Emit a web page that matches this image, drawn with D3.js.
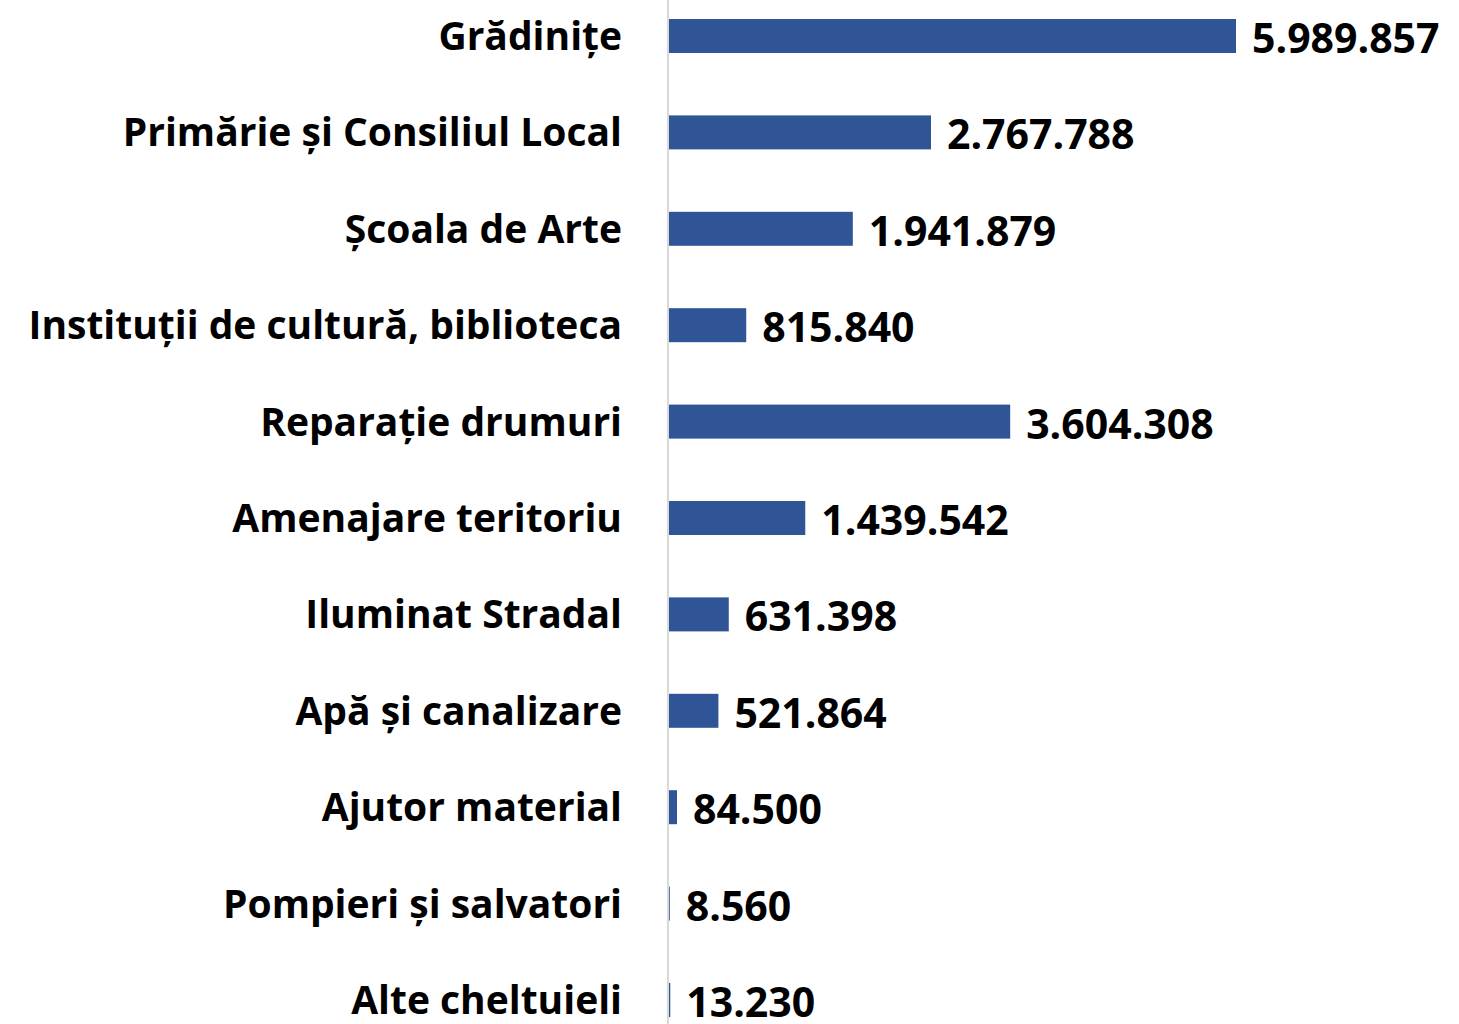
<!DOCTYPE html>
<html>
<head>
<meta charset="utf-8">
<script src="https://cdn.jsdelivr.net/npm/d3@7"></script>
<style>
  html, body { margin: 0; padding: 0; background: #fff; }
  svg { display: block; }
  text { font-family: "Open Sans", "Noto Sans", sans-serif; font-weight: bold; fill: #000; }
</style>
</head>
<body>
<svg id="chart" width="1459" height="1024"></svg>
<script>
var categories = [
  "Grădinițe",
  "Primărie și Consiliul Local",
  "Școala de Arte",
  "Instituții de cultură, biblioteca",
  "Reparație drumuri",
  "Amenajare teritoriu",
  "Iluminat Stradal",
  "Apă și canalizare",
  "Ajutor material",
  "Pompieri și salvatori",
  "Alte cheltuieli"
];
var values = [5989857, 2767788, 1941879, 815840, 3604308, 1439542, 631398, 521864, 84500, 8560, 13230];
var valueLabels = ["5.989.857", "2.767.788", "1.941.879", "815.840", "3.604.308", "1.439.542",
                   "631.398", "521.864", "84.500", "8.560", "13.230"];

var svg = d3.select("#chart");
var axisX = 668, barH = 34;

var x = d3.scaleLinear().domain([0, 5989857]).range([669, 1236]);
var y = d3.scalePoint().domain(categories).range([36, 1000]);

// vertical axis line
svg.append("line")
  .attr("x1", axisX).attr("x2", axisX)
  .attr("y1", 0).attr("y2", 1024)
  .attr("stroke", "#d9d9d9").attr("stroke-width", 2);

var rows = svg.selectAll("g.row")
  .data(categories)
  .enter().append("g")
  .attr("class", "row");

rows.append("rect")
  .attr("x", x(0))
  .attr("y", function(d) { return y(d) - barH / 2; })
  .attr("width", function(d, i) { return x(values[i]) - x(0); })
  .attr("height", barH)
  .attr("fill", "#2f5597");

rows.append("text")
  .attr("x", 622)
  .attr("y", function(d) { return y(d) + 14; })
  .attr("text-anchor", "end")
  .style("font-size", "39px")
  .text(function(d) { return d; });

rows.append("text")
  .attr("x", function(d, i) { return x(values[i]) + 16; })
  .attr("y", function(d) { return y(d) + 17; })
  .style("font-size", "41px")
  .text(function(d, i) { return valueLabels[i]; });
</script>
</body>
</html>
